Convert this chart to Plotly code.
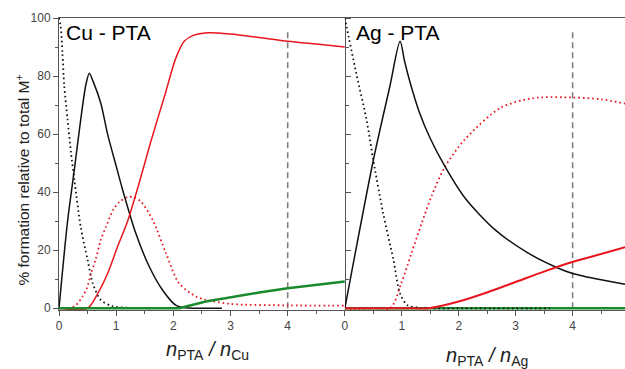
import plotly.graph_objects as go

# ---------------- data ----------------
# Cu - PTA panel
cu_black_dot_x = [0, 0.03, 0.06, 0.09, 0.15, 0.21, 0.27, 0.38, 0.5, 0.59, 0.73, 0.93, 1.2, 1.6]
cu_black_dot_y = [100, 97, 88, 77, 65, 53.5, 44, 28, 16.7, 8.6, 2.9, 0.7, 0.2, 0]

cu_black_x = [0, 0.15, 0.27, 0.38, 0.47, 0.53, 0.6, 0.73, 0.85, 1.0, 1.11, 1.34, 1.58, 1.81, 2.04, 2.2, 2.85]
cu_black_y = [0, 30, 48, 65, 77, 81, 78, 70.7, 60, 49, 41, 26, 14.3, 6.3, 1.1, 0.2, 0]

cu_red_x = [0, 0.5, 0.68, 0.85, 1.03, 1.2, 1.4, 1.6, 1.87, 2.04, 2.19, 2.35, 2.6, 3.0, 3.5, 4.0, 4.5, 5.0]
cu_red_y = [0, 0, 5.2, 12, 21.5, 30, 43, 57, 74.7, 86, 92, 94, 94.9, 94.5, 93.3, 92, 91, 90]

cu_red_dot_x = [0, 0.2, 0.29, 0.41, 0.49, 0.56, 0.64, 0.73, 0.82, 0.95, 1.05, 1.2, 1.3, 1.43, 1.64, 1.87, 2.1, 2.4, 2.55, 3.0, 4.0, 5.0]
cu_red_dot_y = [0, 0.2, 1, 4, 7, 12, 16.7, 23.5, 28, 34, 36.5, 38.3, 38.3, 36.8, 30.4, 19, 8.6, 4, 3, 1.5, 1, 0.9]

cu_green_x = [0, 2.1, 2.57, 3.0, 3.5, 4.0, 4.5, 5.0]
cu_green_y = [0, 0, 2.3, 3.8, 5.4, 6.9, 8.1, 9.2]

# Ag - PTA panel
ag_black_dot_x = [0, 0.03, 0.2, 0.38, 0.5, 0.67, 0.85, 0.97, 1.1, 1.3, 1.6, 3.6]
ag_black_dot_y = [100, 97, 81, 65, 51, 33, 17, 5, 1, 0.2, 0, 0]

ag_black_x = [0, 0.5, 0.79, 0.97, 1.05, 1.15, 1.3, 1.5, 1.76, 2.11, 2.64, 3.22, 3.75, 4.0, 4.5, 4.92]
ag_black_y = [0, 51, 76.4, 92, 85, 77.5, 68, 58.5, 48.8, 38, 27, 19, 13.8, 12, 9.8, 8.3]

ag_red_dot_x = [0, 0.79, 0.99, 1.17, 1.35, 1.53, 1.76, 2.1, 2.73, 3.31, 4.01, 4.5, 4.92]
ag_red_dot_y = [0, 0, 8.6, 19, 29.3, 39, 48.8, 58, 69, 72.4, 72.6, 72, 70.5]

ag_red_x = [0, 1.2, 1.47, 2.0, 2.52, 3.02, 3.52, 4.01, 4.5, 4.92]
ag_red_y = [0, 0, 0, 2.3, 5.6, 9.2, 12.8, 16, 18.7, 21]

ag_green_x = [0, 4.92]
ag_green_y = [0, 0]

guide_x = [4, 4]
guide_y = [0, 96]

x_ticks = [0, 1, 2, 3, 4]
y_ticks = [0, 20, 40, 60, 80, 100]

# ---------------- styles ----------------
RED = "#e8161e"
BLACK = "#111111"
GREEN = "#1b8a2c"
GRAY = "#7f7f7f"
FONT = "Liberation Sans, Arial, sans-serif"
DOT = "1.6px,3px"

fig = go.Figure()


def add(x, y, color, width, dash, xa, ya, shape="spline"):
    fig.add_trace(go.Scatter(
        x=x, y=y, mode="lines", xaxis=xa, yaxis=ya,
        line=dict(color=color, width=width, dash=dash, shape=shape, smoothing=0.8),
        showlegend=False, hoverinfo="skip"))


# Cu panel
add(guide_x, guide_y, GRAY, 1.6, "6px,4px", "x", "y", "linear")
add(cu_black_dot_x, cu_black_dot_y, BLACK, 1.8, DOT, "x", "y")
add(cu_red_dot_x, cu_red_dot_y, RED, 1.8, DOT, "x", "y")
add(cu_black_x, cu_black_y, BLACK, 1.5, "solid", "x", "y")
add(cu_red_x, cu_red_y, RED, 1.5, "solid", "x", "y")
add(cu_green_x, cu_green_y, GREEN, 2.5, "solid", "x", "y", "linear")

# Ag panel
add(guide_x, guide_y, GRAY, 1.6, "6px,4px", "x2", "y2", "linear")
add(ag_green_x, ag_green_y, GREEN, 2.5, "solid", "x2", "y2", "linear")
add(ag_black_dot_x, ag_black_dot_y, BLACK, 1.8, DOT, "x2", "y2")
add(ag_red_dot_x, ag_red_dot_y, RED, 1.8, DOT, "x2", "y2")
add(ag_black_x, ag_black_y, BLACK, 1.5, "solid", "x2", "y2")
add(ag_red_x, ag_red_y, RED, 2, "solid", "x2", "y2")

L, R, T, B = 58.5, 0, 18, 59
W, H = 625, 369
pw = W - L - R
ph = H - T - B
split = (344.6 - L) / pw

axis_common = dict(
    showgrid=False, zeroline=False, showline=True, linecolor="#555555", linewidth=1,
    ticks="outside", ticklen=5, tickwidth=1, tickcolor="#555555",
    tickfont=dict(family=FONT, size=12, color="#444444"),
)

fig.update_layout(
    width=W, height=H,
    margin=dict(l=L, r=R, t=T, b=B),
    paper_bgcolor="white", plot_bgcolor="white",
    font=dict(family=FONT, color="#333333"),
    xaxis=dict(domain=[0, split], range=[0, 5], tickvals=x_ticks, mirror=True,
               minor=dict(dtick=0.5, ticks="outside", ticklen=3, tickcolor="#555555"),
               anchor="y", **axis_common),
    xaxis2=dict(domain=[split, 1], range=[0, 4.92], tickvals=x_ticks, mirror=True,
                minor=dict(dtick=0.5, ticks="outside", ticklen=3, tickcolor="#555555"),
                anchor="y2", **axis_common),
    yaxis=dict(range=[-0.6, 100], tickvals=y_ticks, mirror="ticks",
               minor=dict(dtick=10, ticks="outside", ticklen=3, tickcolor="#555555"),
               anchor="x", **axis_common),
    yaxis2=dict(range=[-0.6, 100], matches="y", showticklabels=False, showline=False,
                showgrid=False, zeroline=False, ticks="", anchor="x2"),
)

ann = []
ann.append(dict(text="Cu - PTA", x=(64 - L) / pw, y=1, xref="paper", yref="paper",
                xanchor="left", yanchor="top", yshift=-1, showarrow=False,
                font=dict(family=FONT, size=21, color="#000000")))
ann.append(dict(text="Ag - PTA", x=(354 - L) / pw, y=1, xref="paper", yref="paper",
                xanchor="left", yanchor="top", yshift=-1, showarrow=False,
                font=dict(family=FONT, size=21, color="#000000")))
ann.append(dict(text="<i>n</i><sub>PTA</sub> <i>/</i> <i>n</i><sub>Cu</sub>",
                x=(207 - L) / pw, y=0, xref="paper", yref="paper",
                xanchor="center", yanchor="middle", yshift=-(350 - (T + ph)),
                showarrow=False, font=dict(family=FONT, size=20, color="#222222")))
ann.append(dict(text="<i>n</i><sub>PTA</sub> <i>/</i> <i>n</i><sub>Ag</sub>",
                x=(487 - L) / pw, y=0, xref="paper", yref="paper",
                xanchor="center", yanchor="middle", yshift=-(356 - (T + ph)),
                showarrow=False, font=dict(family=FONT, size=20, color="#222222")))
ann.append(dict(text="% formation relative to total M<sup>+</sup>",
                x=(22 - L) / pw, y=(T + ph - 180) / ph, xref="paper", yref="paper",
                xanchor="center", yanchor="middle", textangle=-90,
                showarrow=False, font=dict(family=FONT, size=15.5, color="#222222")))
fig.update_layout(annotations=ann)

fig.write_html("out.html")
